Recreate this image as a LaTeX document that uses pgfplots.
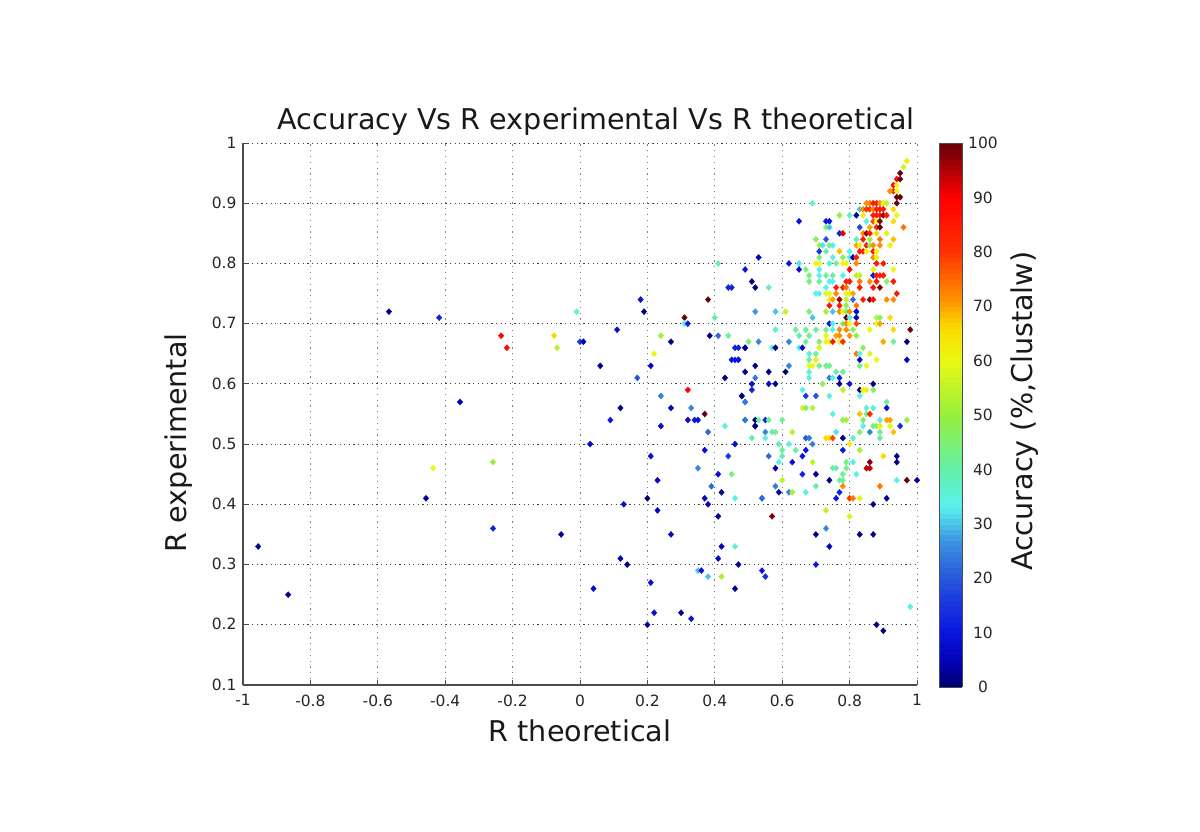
\documentclass[border=0pt]{standalone}
\usepackage{pgfplots}
\pgfplotsset{compat=1.18}
\usepackage{fontspec}
\setmainfont{DejaVu Sans}
\definecolor{vgrid}{rgb}{0.42,0.52,0.50}
\begin{document}
\begin{tikzpicture}[x=1pt,y=1pt]
\path[use as bounding box] (0,0) rectangle (1200,831);
\begin{axis}[
  at={(243pt,146pt)},anchor=south west,
  scale only axis,width=674pt,height=542pt,
  xmin=-1,xmax=1,ymin=0.1,ymax=1,
  axis lines=left,axis line style={-,draw=black!70,line width=1.1pt},
  clip=false,
  xtick={-1,-0.8,-0.6,-0.4,-0.2,0,0.2,0.4,0.6,0.8,1},
  xticklabels={-1,-0.8,-0.6,-0.4,-0.2,0,0.2,0.4,0.6,0.8,1},
  ytick={0.1,0.2,0.3,0.4,0.5,0.6,0.7,0.8,0.9,1},
  yticklabels={0.1,0.2,0.3,0.4,0.5,0.6,0.7,0.8,0.9,1},
  tick align=inside,major tick length=5pt,
  tick style={draw=black!70,line width=0.8pt},
  ticklabel style={font=\fontsize{15.5}{15.5}\selectfont,text=black!85},
  xticklabel style={yshift=-6pt},
  yticklabel style={xshift=-3pt,yshift=0.5pt},
  grid=major,
  x grid style={draw=vgrid,line width=1pt,dash pattern=on 1.2pt off 4.6pt},
  y grid style={draw=black!75,line width=1pt,dash pattern=on 1.2pt off 3.4pt},
  title={Accuracy Vs R experimental Vs R theoretical},
  title style={font=\fontsize{28.6}{28.6}\selectfont,at={(axis description cs:0.524,1.029)},anchor=center,text=black!90},
  xlabel={R theoretical},
  xlabel style={font=\fontsize{28.6}{28.6}\selectfont,at={(axis description cs:0.5,-0.085)},anchor=center,text=black!90},
  ylabel={R experimental},
  ylabel style={font=\fontsize{28.6}{28.6}\selectfont,at={(axis description cs:-0.095,0.447)},anchor=center,text=black!90},
  point meta min=0,point meta max=100,
  colormap={acc}{
    rgb255(0)=(0,0,110) rgb255(4)=(0,0,170) rgb255(10)=(10,20,225) rgb255(20)=(40,85,220)
    rgb255(27)=(60,150,225) rgb255(33)=(90,240,240) rgb255(40)=(100,240,170)
    rgb255(50)=(150,240,60) rgb255(60)=(235,248,20) rgb255(66)=(250,220,0)
    rgb255(71)=(255,150,0) rgb255(80)=(255,50,0) rgb255(90)=(255,0,0) rgb255(100)=(100,0,10)},
  colorbar sampled,
  colorbar style={
    samples=101,
    at={(1.0326,1)},anchor=north west,
    width=23pt,height=544pt,
    xmin=0,xmax=1,
    ymin=0,ymax=100,
    ytick={0,10,20,30,40,50,60,70,80,90,100},
    yticklabels={0,10,20,30,40,50,60,70,80,90,100},
    yticklabel pos=right,
    yticklabel style={font=\fontsize{15.5}{15.5}\selectfont,anchor=center,xshift=21pt,text=black!85},
    major tick length=0pt,
    axis line style={draw=black!70,line width=0.8pt},
    ylabel={Accuracy (\%,Clustalw)},
    ylabel style={font=\fontsize{28.6}{28.6}\selectfont,at={(axis description cs:3.72,0.507)},anchor=center,rotate=0,text=black!90},
  },
]
\addplot[scatter,only marks,mark=diamond*,mark size=3pt,mark options={xscale=1.2},point meta=explicit,
  scatter/use mapped color={draw=mapped color,fill=mapped color}] coordinates {
(.97,.97)[62](.96,.96)[56](.95,.95)[100](.94,.94)[88](.95,.94)[100](.93,.93)[88](.94,.93)[60]
(.93,.92)[85](.92,.92)[72](.94,.92)[60](.94,.91)[100](.95,.91)[100]
(.69,.90)[36](.85,.90)[72](.86,.90)[72](.87,.90)[85](.88,.90)[85](.89,.90)[72](.90,.90)[62](.91,.90)[55](.94,.90)[100]
(.83,.89)[30](.84,.89)[72](.85,.89)[80](.86,.89)[82](.87,.89)[72](.88,.89)[85](.89,.89)[85](.90,.89)[85](.93,.89)[66]
(.77,.88)[50](.80,.88)[36](.82,.88)[4](.84,.88)[62](.87,.88)[85](.88,.88)[85](.89,.88)[85](.90,.88)[96](.91,.88)[85](.94,.88)[60]
(.65,.87)[10](.73,.87)[10](.74,.87)[10](.85,.87)[34](.87,.87)[78](.88,.87)[60](.89,.87)[98](.93,.87)[66]
(.73,.86)[46](.74,.86)[30](.83,.86)[18](.86,.86)[70](.88,.86)[82](.89,.86)[100](.96,.86)[74]
(.77,.85)[12](.78,.85)[92](.84,.85)[72](.85,.85)[96](.86,.85)[85](.88,.85)[66](.91,.85)[62]
(.70,.84)[46](.73,.84)[20](.82,.84)[38](.84,.84)[85](.86,.84)[50](.89,.84)[74](.93,.84)[68]
(.71,.83)[52](.72,.83)[32](.74,.83)[44](.75,.83)[34](.82,.83)[70](.83,.83)[62](.85,.83)[85](.86,.83)[48](.87,.83)[72](.89,.83)[72](.92,.83)[62]
(.71,.82)[15](.73,.82)[40](.77,.82)[68](.80,.82)[33](.83,.82)[85](.84,.82)[85](.85,.82)[62](.87,.82)[85](.88,.82)[60]
(.53,.81)[6](.71,.81)[44](.75,.81)[34](.78,.81)[46](.80,.81)[34](.81,.81)[4](.82,.81)[85](.87,.81)[72](.88,.81)[60]
(.62,.80)[10](.65,.80)[32](.70,.80)[60](.71,.80)[60](.74,.80)[36](.76,.80)[42](.78,.80)[60](.79,.80)[60](.82,.80)[72](.88,.80)[85](.90,.80)[85]
(.49,.79)[10](.65,.79)[8](.67,.79)[44](.71,.79)[33](.80,.79)[88](.87,.79)[62](.93,.79)[60]
(.68,.78)[44](.71,.78)[33](.73,.78)[42](.75,.78)[42](.78,.78)[33](.82,.78)[55](.83,.78)[55](.87,.78)[10](.88,.78)[85](.89,.78)[85](.90,.78)[85]
(.51,.77)[2](.68,.77)[44](.71,.77)[42](.74,.77)[33](.75,.77)[33](.79,.77)[85](.80,.77)[85](.83,.77)[74](.86,.77)[72](.88,.77)[85](.91,.77)[46](.93,.77)[85]
(.52,.76)[2](.56,.76)[38](.73,.76)[33](.76,.76)[85](.78,.76)[85](.79,.76)[74](.83,.76)[85](.87,.76)[88](.89,.76)[98]
(.70,.75)[33](.71,.75)[33](.73,.75)[58](.74,.75)[60](.76,.75)[72](.79,.75)[60](.80,.75)[62](.81,.75)[70](.94,.75)[85]
(.74,.74)[62](.75,.74)[70](.77,.74)[96](.79,.74)[55](.81,.74)[22](.84,.74)[85](.86,.74)[98](.87,.74)[88](.91,.74)[72](.93,.74)[72]
(.74,.73)[85](.77,.73)[85](.79,.73)[48](.82,.73)[74]
(.52,.72)[27](.58,.72)[30](.61,.72)[55](.68,.72)[44](.73,.72)[52](.75,.72)[30](.77,.72)[72](.78,.72)[60](.79,.72)[46](.80,.72)[72](.82,.72)[6]
(.69,.71)[30](.79,.71)[100](.80,.71)[34](.82,.71)[6](.88,.71)[54](.89,.71)[46](.92,.71)[66]
(.74,.70)[10](.75,.70)[33](.78,.70)[44](.79,.70)[72](.80,.70)[60](.82,.70)[78](.88,.70)[60](.89,.70)[70]
(.58,.69)[36](.64,.69)[42](.67,.69)[42](.70,.69)[42](.73,.69)[42](.75,.69)[33](.77,.69)[72](.79,.69)[72](.81,.69)[46](.86,.69)[60](.93,.69)[66](.98,.69)[100]
(.65,.68)[40](.68,.68)[42](.73,.68)[60](.76,.68)[70](.77,.68)[72](.80,.68)[72](.82,.68)[48]
(.50,.67)[44](.53,.67)[25](.62,.67)[25](.67,.67)[42](.71,.67)[46](.73,.67)[60](.74,.67)[60](.75,.67)[86](.77,.67)[60](.78,.67)[82](.90,.67)[70](.93,.67)[42](.97,.67)[2]
(.49,.66)[2](.57,.66)[34](.58,.66)[2](.65,.66)[34](.66,.66)[8](.71,.66)[58](.84,.66)[48]
(.68,.65)[34](.70,.65)[42](.82,.65)[74](.83,.65)[34](.86,.65)[58]
(.47,.64)[6](.68,.64)[42](.70,.64)[62](.83,.64)[6](.88,.64)[60](.97,.64)[6]
(.52,.63)[2](.62,.63)[25](.68,.63)[60](.69,.63)[60](.71,.63)[44](.73,.63)[42](.74,.63)[42](.83,.63)[42](.85,.63)[60]
(.49,.62)[2](.56,.62)[2](.61,.62)[0](.68,.62)[34](.76,.62)[40](.78,.62)[42]
(.52,.61)[24](.68,.61)[34](.74,.61)[24](.75,.61)[34](.77,.61)[10]
(.51,.60)[8](.56,.60)[8](.58,.60)[2](.72,.60)[48](.77,.60)[2](.80,.60)[8](.87,.60)[2]
(.51,.59)[12](.66,.59)[34](.78,.59)[54](.83,.59)[2](.84,.59)[60](.85,.59)[62](.87,.59)[46]
(.48,.58)[2](.67,.58)[16](.70,.58)[20](.74,.58)[34](.83,.58)[34]
(.49,.57)[24](.91,.57)[42]
(.66,.56)[58](.67,.56)[46](.69,.56)[54](.85,.56)[36](.87,.56)[36](.91,.56)[8]
(.75,.55)[34](.83,.55)[68](.85,.55)[42](.86,.55)[82]
(.49,.54)[24](.52,.54)[2](.53,.54)[42](.55,.54)[12](.56,.54)[42](.60,.54)[42](.78,.54)[48](.79,.54)[52](.84,.54)[46](.89,.54)[34](.91,.54)[70](.92,.54)[70](.97,.54)[50]
(.52,.53)[2](.84,.53)[33](.87,.53)[42](.88,.53)[46](.89,.53)[62](.92,.53)[60](.95,.53)[14]
(.55,.52)[25](.57,.52)[40](.58,.52)[42](.63,.52)[54](.76,.52)[32](.83,.52)[46](.86,.52)[25](.89,.52)[42](.93,.52)[68]
(.51,.51)[40](.55,.51)[34](.67,.51)[20](.68,.51)[24](.73,.51)[66](.74,.51)[66](.75,.51)[78](.78,.51)[2](.81,.51)[38](.89,.51)[40]
(.59,.50)[40](.62,.50)[34](.69,.50)[24](.80,.50)[62]
(.60,.49)[42](.64,.49)[40](.67,.49)[10](.78,.49)[10](.83,.49)[52]
(.56,.48)[22](.60,.48)[40](.66,.48)[10](.90,.48)[66](.94,.48)[2]
(.59,.47)[34](.63,.47)[8](.69,.47)[54](.79,.47)[44](.81,.47)[34](.86,.47)[98](.94,.47)[2]
(.58,.46)[4](.75,.46)[40](.76,.46)[40](.79,.46)[42](.85,.46)[94](.86,.46)[94]
(.66,.45)[12](.70,.45)[2](.78,.45)[42](.82,.45)[34]
(.60,.44)[54](.74,.44)[2](.77,.44)[42](.78,.44)[42](.94,.44)[34](.97,.44)[100](1,.44)[2]
(.58,.43)[24](.70,.43)[40](.78,.43)[72](.89,.43)[74]
(.59,.42)[4](.62,.42)[25](.63,.42)[52](.67,.42)[34](.77,.42)[12]
(.54,.41)[22](.76,.41)[10](.80,.41)[80](.81,.41)[74](.83,.41)[58](.91,.41)[2](.87,.40)[2]
(.73,.39)[55](.80,.38)[58](.73,.36)[25](.70,.35)[2](.83,.35)[2](.87,.35)[2](.74,.33)[6](.70,.30)[10](.98,.23)[35](.88,.20)[2](.90,.19)[2]
(.18,.74)[8](.19,.72)[2](-.01,.72)[36](.31,.71)[100](.40,.71)[40](.31,.70)[34](.32,.70)[10](.38,.74)[100](.41,.80)[40](.44,.76)[12](.45,.76)[12]
(.11,.69)[8](0,.67)[15](.01,.67)[6](.24,.68)[50](.27,.67)[2](.385,.68)[2](.41,.68)[22](.44,.68)[42]
(.22,.65)[60](.46,.66)[12](.47,.66)[12](.49,.66)[2](.45,.64)[10](.46,.64)[10](.47,.64)[10](.06,.63)[2](.21,.63)[6](.17,.61)[20](.43,.61)[2](.32,.59)[90]
(.24,.58)[25](.48,.58)[2](.49,.57)[24](.12,.56)[2](.27,.56)[6](.33,.56)[25](.37,.55)[100](.09,.54)[10](.32,.54)[8](.34,.54)[10](.35,.54)[10](.49,.54)[24]
(.43,.53)[34](.24,.53)[8](.52,.53)[2](.38,.52)[22](.46,.50)[8](.03,.50)[8](.37,.49)[8](.21,.48)[8](.44,.48)[16](.35,.46)[25](.41,.45)[8](.45,.45)[44]
(.23,.44)[6](.39,.43)[22](.42,.42)[2](.20,.41)[0](.37,.41)[6](.46,.41)[33](.54,.41)[22](.13,.40)[8](.38,.40)[6](.23,.39)[6](.41,.38)[2](.57,.38)[98]
(.27,.35)[6](.42,.33)[6](.46,.33)[36](.41,.31)[6](.12,.31)[6](.14,.30)[2](.47,.30)[2](.35,.29)[30](.36,.29)[10](.54,.29)[10](.55,.28)[14](.38,.28)[30](.42,.28)[52](.21,.27)[8](.46,.26)[2]
(.20,.20)[2](.22,.22)[8](.30,.22)[2](.33,.21)[8](.04,.26)[8]
(-.955,.33)[2](-.866,.25)[2](-.567,.72)[2](-.418,.71)[12](-.356,.57)[6](-.457,.41)[2](-.436,.46)[60](-.258,.47)[50](-.258,.36)[12](-.234,.68)[90](-.217,.66)[88](-.077,.68)[66](-.068,.66)[54](-.056,.35)[2]
};
\end{axis}
\end{tikzpicture}
\end{document}
